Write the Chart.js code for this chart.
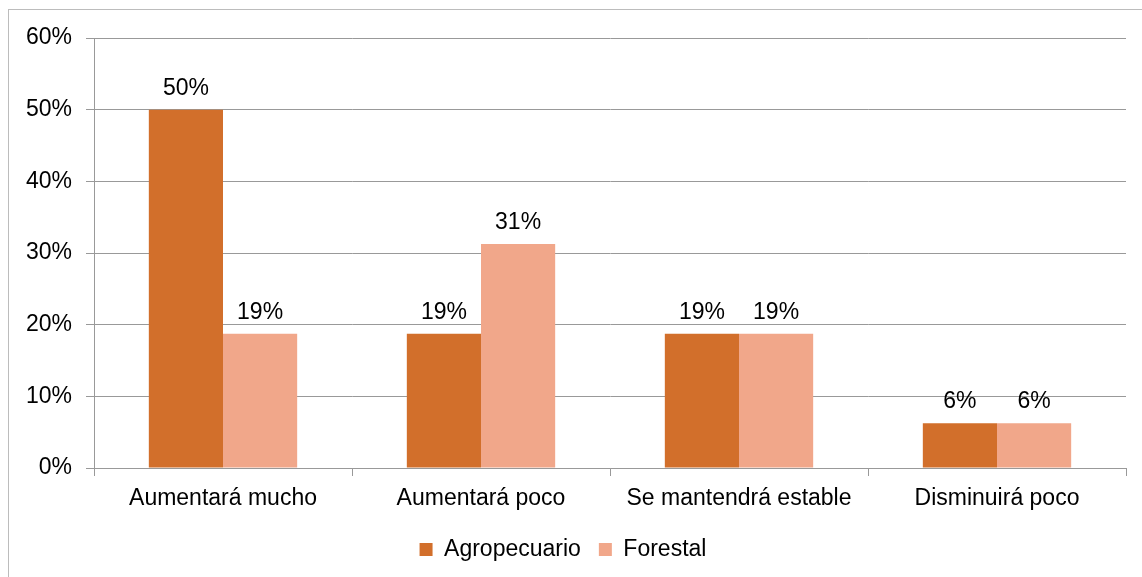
<!DOCTYPE html>
<html>
<head>
<meta charset="utf-8">
<script src="https://cdn.jsdelivr.net/npm/chart.js@4.4.0/dist/chart.umd.min.js"></script>
<style>
    body { margin: 0; background: #fff; }
    #wrap { position: relative; width: 1142px; height: 577px; }
    #frame { position: absolute; left: 8px; top: 9px; width: 1200px; height: 600px;
             border-left: 1px solid #bcbcbc; border-top: 1px solid #bcbcbc; pointer-events: none; }
</style>
</head>
<body>
<div id="wrap">
    <canvas id="barChart"></canvas>
    <div id="frame"></div>
</div>
<script>
const categories = ["Aumentará mucho", "Aumentará poco", "Se mantendrá estable", "Disminuirá poco"];
const agropecuario = [50, 18.75, 18.75, 6.25];
const forestal = [18.75, 31.25, 18.75, 6.25];
const yTicks = [0, 10, 20, 30, 40, 50, 60];

const FONT = "'Liberation Sans', Arial, sans-serif";

// ---------- Plugin: value labels above bars ----------
const valueLabels = {
    id: "valueLabels",
    afterDatasetsDraw(chart) {
        const ctx = chart.ctx;
        ctx.save();
        ctx.font = "23px " + FONT;
        ctx.fillStyle = "#000";
        ctx.textAlign = "center";
        ctx.textBaseline = "alphabetic";
        chart.data.datasets.forEach((ds, i) => {
            chart.getDatasetMeta(i).data.forEach((bar, j) => {
                ctx.fillText(Math.round(ds.data[j]) + "%", bar.x, bar.y - 15);
            });
        });
        ctx.restore();
    }
};

new Chart(document.getElementById("barChart").getContext("2d"), {
    type: "bar",
    data: {
        labels: categories,
        datasets: [
            { label: "Agropecuario", data: agropecuario, backgroundColor: "#d26f2b" },
            { label: "Forestal", data: forestal, backgroundColor: "#f1a78a" }
        ]
    },
    options: {
        responsive: true,
        maintainAspectRatio: false,
        animation: false,
        datasets: { bar: { barPercentage: 1, categoryPercentage: 0.575 } },
        layout: { padding: { left: 0, right: 16, top: 38, bottom: 6 } },
        scales: {
            x: {
                grid: { display: true, drawOnChartArea: false, drawTicks: true, tickLength: 8, color: "#999", offset: true },
                border: { display: true, color: "#999" },
                ticks: { color: "#000", font: { family: FONT, size: 23 }, padding: 9, maxRotation: 0 },
                afterFit(scale) { scale.height = 52; }
            },
            y: {
                min: 0,
                max: 60,
                afterBuildTicks(scale) { scale.ticks = yTicks.map(v => ({ value: v })); },
                grid: { color: "#999", tickLength: 8 },
                border: { display: true, color: "#999" },
                ticks: {
                    color: "#000",
                    font: { family: FONT, size: 23 },
                    padding: 14,
                    callback: v => v + "%"
                },
                afterFit(scale) { scale.width = 94; }
            }
        },
        plugins: {
            legend: {
                position: "bottom",
                labels: {
                    color: "#000",
                    font: { family: FONT, size: 23 },
                    boxWidth: 13,
                    boxHeight: 13,
                    padding: 18
                }
            },
            tooltip: { enabled: false }
        }
    },
    plugins: [valueLabels]
});
</script>
</body>
</html>
